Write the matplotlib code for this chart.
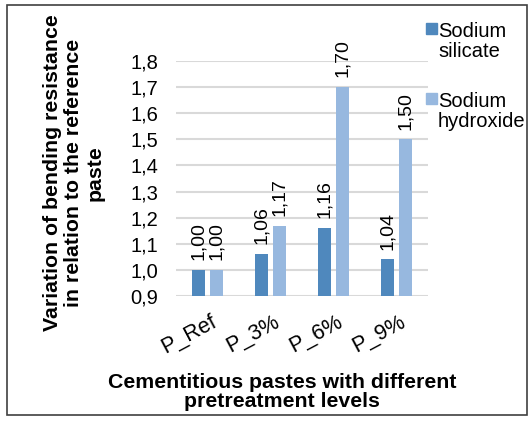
import numpy as np
import matplotlib.pyplot as plt
import matplotlib.transforms as mtransforms
from matplotlib.patches import Rectangle

plt.rcParams['font.family'] = ['Liberation Sans', 'DejaVu Sans']

groups = ['P_Ref', 'P_3%', 'P_6%', 'P_9%']
silicate = [1.00, 1.06, 1.16, 1.04]
hydroxide = [1.00, 1.17, 1.70, 1.50]
series_names = [['Sodium', 'silicate'], ['Sodium', 'hydroxide']]
yticks = [0.9, 1.0, 1.1, 1.2, 1.3, 1.4, 1.5, 1.6, 1.7, 1.8]

c_dark = '#4f88bd'
c_light = '#97b8df'

W, H = 531, 421
fig = plt.figure(figsize=(5.31, 4.21), dpi=100)
ax = fig.add_axes([176/W, 1 - 296/H, 252/W, 235/H])

x = np.arange(len(groups))
w = 0.21
b1 = ax.bar(x - 0.14, np.array(silicate) - 0.9, w, bottom=0.9, color=c_dark, zorder=3)
b2 = ax.bar(x + 0.14, np.array(hydroxide) - 0.9, w, bottom=0.9, color=c_light, zorder=3)

for bars, vals in ((b1, silicate), (b2, hydroxide)):
    for r, v in zip(bars, vals):
        ax.annotate(f'{v:.2f}'.replace('.', ','), (r.get_x() + r.get_width()/2, v),
                    xytext=(0, 7), textcoords='offset points', rotation=90,
                    ha='center', va='bottom', fontsize=14, annotation_clip=False)

ax.set_xlim(-0.5, 3.5)
ax.set_ylim(0.9, 1.8)
ax.set_yticks(yticks)
ax.set_yticklabels([f'{t:.1f}'.replace('.', ',') for t in yticks], fontsize=14.5)
ax.set_xticks(x)
ax.set_xticklabels(groups, rotation=28, ha='right', rotation_mode='anchor', fontsize=15.5)
ax.tick_params(axis='y', length=0, pad=13)
ax.tick_params(axis='x', length=0, pad=11)
shift = mtransforms.ScaledTranslation(3/100, 0, fig.dpi_scale_trans)
for lab in ax.get_xticklabels():
    lab.set_transform(lab.get_transform() + shift)
ax.grid(axis='y', color='#d9d9d9', linewidth=1.5, zorder=0)
for s in ax.spines.values():
    s.set_visible(False)

fig.text(282/W, 1 - 392/H, 'Cementitious pastes with different\npretreatment levels',
         ha='center', va='center', fontsize=15.3, fontweight='bold', linespacing=1.05)
fig.text(74/W, 1 - 173/H, 'Variation of bending resistance\nin relation to the reference\npaste',
         ha='center', va='center', rotation=90, fontsize=15.3, fontweight='bold', linespacing=1.15)

# legend: square beside the first line of each two-line label
for (top, color, lines) in ((23, c_dark, series_names[0]), (93, c_light, series_names[1])):
    fig.patches.append(Rectangle((426/W, 1 - (top + 11)/H), 11/W, 11/H,
                                 transform=fig.transFigure, color=color))
    for i, line in enumerate(lines):
        fig.text(438/W, 1 - (top + 14 + 20*i)/H, line, ha='left', va='baseline', fontsize=14.5)

fig.patches.append(Rectangle((7/W, 1 - 415/H), 520/W, 410/H, transform=fig.transFigure,
                             fill=False, edgecolor='#404040', linewidth=1.2))

plt.savefig('out.png', dpi=100)
